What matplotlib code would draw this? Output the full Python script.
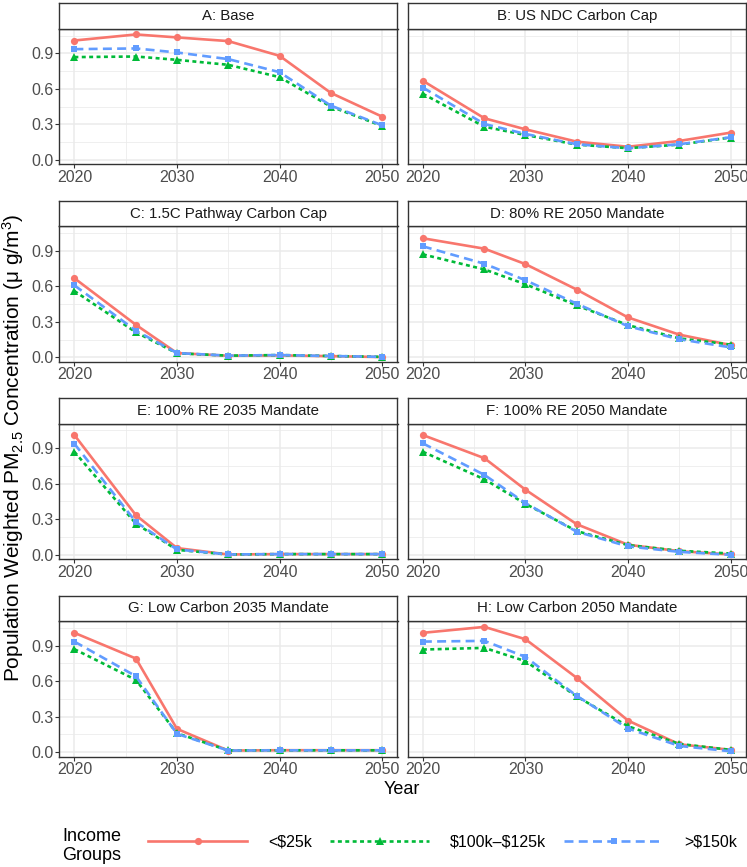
import matplotlib
matplotlib.use("Agg")
import matplotlib.pyplot as plt
from matplotlib.lines import Line2D
from matplotlib.ticker import MultipleLocator

plt.rcParams['font.family'] = ['Liberation Sans', 'DejaVu Sans']
plt.rcParams['mathtext.fontset'] = 'custom'
plt.rcParams['mathtext.rm'] = 'Liberation Sans'
plt.rcParams['mathtext.it'] = 'Liberation Sans:italic'
plt.rcParams['mathtext.bf'] = 'Liberation Sans:bold'

years = [2020, 2026, 2030, 2035, 2040, 2045, 2050]
scenarios = ["A: Base", "B: US NDC Carbon Cap", "C: 1.5C Pathway Carbon Cap",
             "D: 80% RE 2050 Mandate", "E: 100% RE 2035 Mandate",
             "F: 100% RE 2050 Mandate", "G: Low Carbon 2035 Mandate",
             "H: Low Carbon 2050 Mandate"]
groups = ["<$25k", "$100k–$125k", ">$150k"]

low_25k = [
    [1.008, 1.059, 1.034, 1.003, 0.879, 0.566, 0.366],
    [0.668, 0.352, 0.259, 0.155, 0.112, 0.161, 0.231],
    [0.668, 0.275, 0.037, 0.014, 0.017, 0.011, 0.003],
    [1.005, 0.917, 0.787, 0.572, 0.337, 0.192, 0.105],
    [1.010, 0.334, 0.057, 0.003, 0.006, 0.006, 0.006],
    [1.010, 0.815, 0.549, 0.258, 0.085, 0.031, 0.003],
    [1.007, 0.790, 0.197, 0.014, 0.017, 0.017, 0.017],
    [1.007, 1.057, 0.953, 0.627, 0.267, 0.067, 0.020],
]
mid_100_125k = [
    [0.868, 0.873, 0.845, 0.803, 0.699, 0.451, 0.287],
    [0.558, 0.281, 0.211, 0.130, 0.100, 0.130, 0.190],
    [0.560, 0.212, 0.035, 0.015, 0.020, 0.012, 0.005],
    [0.869, 0.742, 0.617, 0.439, 0.272, 0.161, 0.108],
    [0.869, 0.263, 0.042, 0.003, 0.006, 0.006, 0.006],
    [0.869, 0.637, 0.430, 0.200, 0.082, 0.034, 0.011],
    [0.869, 0.610, 0.160, 0.015, 0.016, 0.016, 0.016],
    [0.866, 0.880, 0.768, 0.470, 0.219, 0.070, 0.020],
]
high_150k = [
    [0.935, 0.941, 0.907, 0.851, 0.741, 0.459, 0.293],
    [0.611, 0.304, 0.220, 0.133, 0.099, 0.133, 0.192],
    [0.608, 0.226, 0.037, 0.015, 0.020, 0.012, 0.005],
    [0.937, 0.790, 0.651, 0.453, 0.263, 0.153, 0.085],
    [0.937, 0.277, 0.045, 0.003, 0.006, 0.006, 0.006],
    [0.940, 0.674, 0.436, 0.195, 0.071, 0.025, 0.000],
    [0.933, 0.641, 0.155, 0.014, 0.016, 0.016, 0.016],
    [0.933, 0.939, 0.804, 0.475, 0.200, 0.053, 0.008],
]

series = [low_25k, mid_100_125k, high_150k]
colors = ["#F8766D", "#00BA38", "#619CFF"]
markers = ["o", "^", "s"]
msizes = [5.2, 5.8, 5.0]
styles = ["-", (0, (1.5, 1.3)), (0, (3.4, 2.0))]
LW = 1.9

W, H = 747, 867
fig = plt.figure(figsize=(W / 100, H / 100), dpi=100)

col_x = [59, 407.5]
pw = 338.5
strip_top0 = 3.3
strip_h = 25.7
plot_h = 135.3
period = 197.4

TICKC = "#333333"
LABC = "#4D4D4D"

for i, name in enumerate(scenarios):
    r, c = divmod(i, 2)
    x0 = col_x[c]
    st = strip_top0 + r * period
    pt = st + strip_h
    pb = pt + plot_h
    ax = fig.add_axes([x0 / W, 1 - pb / H, pw / W, plot_h / H])
    sax = fig.add_axes([x0 / W, 1 - pt / H, pw / W, strip_h / H])
    sax.set_xticks([]); sax.set_yticks([])
    for s in sax.spines.values():
        s.set_color(TICKC); s.set_linewidth(1.0)
    sax.text(0.5, 0.5, name, ha="center", va="center", fontsize=10.8,
             color="#1A1A1A", transform=sax.transAxes)

    for vals, col, mk, ms, ls in zip(series, colors, markers, msizes, styles):
        ax.plot(years, vals[i], color=col, linestyle=ls, linewidth=LW,
                marker=mk, markersize=ms, markeredgewidth=0, zorder=3)

    ax.set_xlim(2018.5, 2051.5)
    ax.set_ylim(-0.036, 1.105)
    ax.xaxis.set_major_locator(MultipleLocator(10))
    ax.xaxis.set_minor_locator(MultipleLocator(5))
    ax.yaxis.set_major_locator(MultipleLocator(0.3))
    ax.yaxis.set_minor_locator(MultipleLocator(0.15))
    ax.grid(which="major", color="#EBEBEB", linewidth=1.1, zorder=0)
    ax.grid(which="minor", color="#EBEBEB", linewidth=0.55, zorder=0)
    ax.set_axisbelow(True)
    for s in ax.spines.values():
        s.set_color(TICKC); s.set_linewidth(1.0)
    ax.tick_params(which="minor", length=0)
    ax.tick_params(axis="x", which="major", length=2.6, width=0.8, color=TICKC,
                   labelcolor=LABC, labelsize=11.5, pad=1.5)
    if c == 0:
        ax.set_yticks([0.0, 0.3, 0.6, 0.9])
        ax.set_yticklabels(["0.0", "0.3", "0.6", "0.9"])
        ax.tick_params(axis="y", which="major", length=2.6, width=0.8, color=TICKC,
                       labelcolor=LABC, labelsize=11.5, pad=1.5)
    else:
        ax.tick_params(axis="y", which="major", length=0, labelleft=False)

fig.text(13 / W, 1 - 448 / H,
         "Population Weighted PM$_{\\mathrm{2.5}}$ Concentration (μ g/m$^{\\mathrm{3}}$)",
         rotation=90, ha="center", va="center", fontsize=15, color="black")
fig.text(402 / W, 1 - 790 / H, "Year", ha="center", va="center", fontsize=13)

fig.text(62 / W, 1 - 846 / H, "Income\nGroups", ha="left", va="center",
         fontsize=13, linespacing=1.1)
handles = [Line2D([0], [0], color=c_, linestyle=ls, linewidth=LW, marker=m,
                  markersize=ms, markeredgewidth=0)
           for c_, m, ms, ls in zip(colors, markers, msizes, styles)]
leg = fig.legend(handles, groups, loc="center left",
                 bbox_to_anchor=(148 / W, 1 - 842 / H), ncol=3, frameon=False,
                 fontsize=11.5, handlelength=6.2, handletextpad=1.3,
                 columnspacing=1.15, numpoints=1, borderpad=0, borderaxespad=0)
for t in leg.get_texts():
    t.set_parse_math(False)

fig.savefig("out.png", dpi=100)
